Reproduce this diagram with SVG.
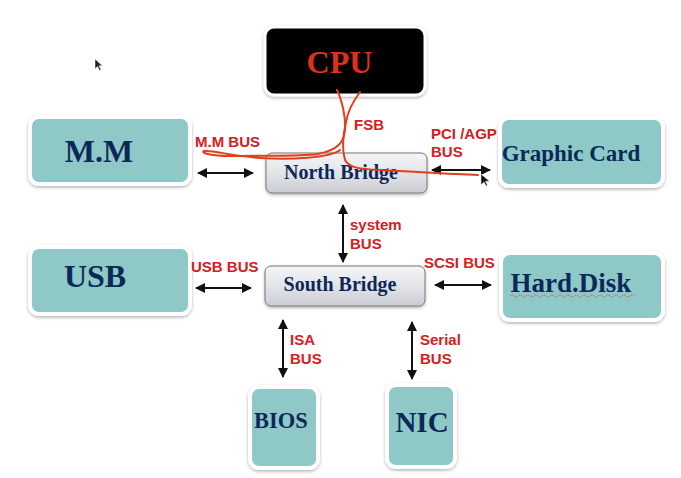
<svg xmlns="http://www.w3.org/2000/svg" width="681" height="478" viewBox="0 0 681 478">
<defs>
<linearGradient id="gb" x1="0" y1="0" x2="0" y2="1">
<stop offset="0" stop-color="#f4f5f7"/><stop offset="0.5" stop-color="#e2e4e8"/><stop offset="1" stop-color="#c9ccd2"/>
</linearGradient>
<marker id="ah" viewBox="0 0 10 10" refX="9" refY="5" markerWidth="5" markerHeight="5" orient="auto-start-reverse">
<path d="M0,0 L10,5 L0,10 z" fill="#111"/>
</marker>
<filter id="sh" x="-10%" y="-10%" width="120%" height="130%">
<feDropShadow dx="0" dy="1.5" stdDeviation="1.5" flood-color="#000" flood-opacity="0.3"/>
</filter>
</defs>
<style>
.box{fill:#8ec9c7;stroke:#fff;stroke-width:4;filter:url(#sh)}
.br{fill:url(#gb);stroke:#777;stroke-width:1;filter:url(#sh)}
.t{font-family:"Liberation Serif",serif;font-weight:bold;fill:#0c2859;text-anchor:middle}
.lb{font-family:"Liberation Sans",Arial,sans-serif;font-weight:bold;font-size:15px;fill:#d42020}
.ar{stroke:#111;stroke-width:2;fill:none;marker-start:url(#ah);marker-end:url(#ah)}
.pen{stroke:#e0401c;stroke-width:2;fill:none;stroke-linecap:round;stroke-linejoin:round}
</style>
<rect width="681" height="478" fill="#fff"/>

<g id="cpu">
<rect x="265" y="27" width="160" height="68" rx="9" fill="#000" stroke="#fff" stroke-width="3" filter="url(#sh)"/>
<text x="339.5" y="73" class="t" font-size="32" style="fill:#e0301c">CPU</text>
</g>
<g id="mm">
<rect x="30" y="117" width="160" height="67" rx="9" class="box"/>
<text x="99" y="162" class="t" font-size="32">M.M</text>
</g>
<g id="graphic">
<rect x="500" y="118" width="163" height="68" rx="9" class="box"/>
<text x="571" y="161" class="t" font-size="23">Graphic Card</text>
</g>
<g id="usb">
<rect x="30" y="247" width="160" height="67" rx="9" class="box"/>
<text x="95" y="287" class="t" font-size="32">USB</text>
</g>
<g id="harddisk">
<rect x="501" y="253" width="162" height="67" rx="9" class="box"/>
<text x="571" y="292" class="t" font-size="27">Hard.Disk</text>
<path d="M510,296 q2,-2 4,0 t4,0 t4,0 t4,0 t4,0 t4,0 t4,0 t4,0 t4,0 t4,0 t4,0 t4,0 t4,0 t4,0 t4,0 t4,0 t4,0 t4,0 t4,0 t4,0 t4,0 t4,0 t4,0 t4,0 t4,0 t4,0 t4,0 t4,0 t4,0 t4,0 t4,0" stroke="#d04040" stroke-width="0.8" fill="none" stroke-dasharray="1.5,1"/>
</g>
<g id="northbridge">
<rect x="266" y="153" width="161" height="40" rx="6" class="br"/>
<text x="341" y="179" class="t" font-size="20">North Bridge</text>
</g>
<g id="southbridge">
<rect x="265" y="266" width="160" height="40" rx="6" class="br"/>
<text x="340" y="291" class="t" font-size="20">South Bridge</text>
</g>
<g id="bios">
<rect x="250" y="387" width="68" height="81" rx="9" class="box"/>
<text x="281" y="428" class="t" font-size="22.5">BIOS</text>
</g>
<g id="nic">
<rect x="387" y="385" width="68" height="82" rx="9" class="box"/>
<text x="422" y="432" class="t" font-size="29">NIC</text>
</g>

<g id="connectors">
<line x1="198" y1="173" x2="253" y2="173" class="ar"/>
<line x1="432" y1="170" x2="490" y2="170" class="ar"/>
<line x1="196" y1="288" x2="251" y2="288" class="ar"/>
<line x1="435" y1="285" x2="491" y2="285" class="ar"/>
<line x1="343" y1="205" x2="343" y2="262" class="ar"/>
<line x1="283" y1="320" x2="283" y2="377" class="ar"/>
<line x1="412" y1="322" x2="412" y2="379" class="ar"/>
</g>

<g id="labels">
<text x="195" y="147" class="lb">M.M BUS</text>
<text x="354" y="130" class="lb">FSB</text>
<text x="431" y="139" class="lb">PCI /AGP</text>
<text x="431" y="157" class="lb">BUS</text>
<text x="191" y="272" class="lb">USB BUS</text>
<text x="424" y="268" class="lb">SCSI BUS</text>
<text x="350" y="230" class="lb">system</text>
<text x="350" y="249" class="lb">BUS</text>
<text x="290" y="345" class="lb">ISA</text>
<text x="290" y="364" class="lb">BUS</text>
<text x="420" y="345" class="lb">Serial</text>
<text x="420" y="364" class="lb">BUS</text>
</g>

<g id="pen">
<path class="pen" d="M337,90 C342,100 346,118 345,130 C344,142 338,150 318,154 C295,157 260,155 230,156 C212,156 200,153 204,151 C214,150 230,156 260,158 C290,160 330,158 340,150"/>
<path class="pen" d="M360,92 C354,100 348,110 346,122 C343,135 342,150 345,160 C349,168 360,169 380,170 C420,172 450,174 478,175"/>
</g>
<g id="cursors">
<path d="M481,174 l0,11 l3,-3 l2,4 l1.5,-0.7 l-2,-4 l4,0 z" fill="#111" stroke="#fff" stroke-width="0.5"/>
<path d="M95,59 l0,10 l2.5,-2.5 l2,4 l1.5,-0.7 l-2,-4 l3.5,0 z" fill="#222" stroke="#fff" stroke-width="0.5"/>
</g>
</svg>
